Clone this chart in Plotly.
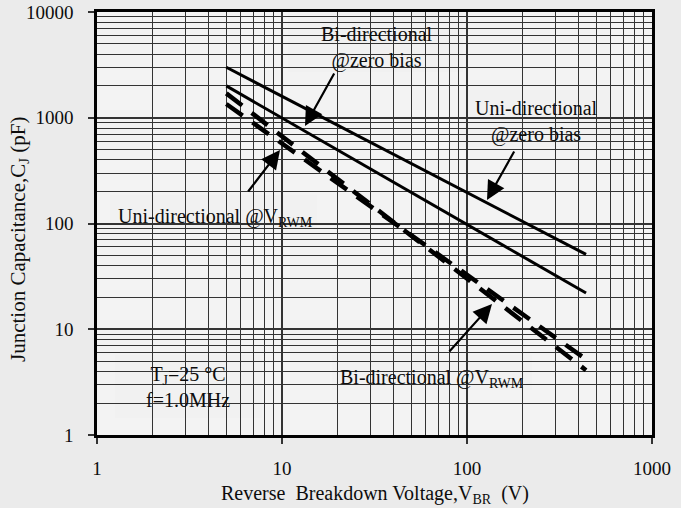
import plotly.graph_objects as go

# ---- data ----
bi_zero_x = [5, 440]
bi_zero_y = [3000, 51]
uni_zero_x = [5, 440]
uni_zero_y = [2000, 22]
uni_vrwm_x = [5, 440]
uni_vrwm_y = [1700, 4.1]
bi_vrwm_x = [5, 440]
bi_vrwm_y = [1350, 5.2]

x_tickvals = [1, 10, 100, 1000]
x_ticktext = ["1", "10", "100", "1000"]
y_tickvals = [1, 10, 100, 1000, 10000]
y_ticktext = ["1", "10", "100", "1000", "10000"]

FONT = "Liberation Serif"
TXT = "#0d0d0d"
GRID = "#333333"
BOX = "#f1f1f1"

fig = go.Figure()
fig.add_trace(go.Scatter(x=bi_zero_x, y=bi_zero_y, mode="lines",
                         line=dict(color="#000", width=3), showlegend=False))
fig.add_trace(go.Scatter(x=uni_zero_x, y=uni_zero_y, mode="lines",
                         line=dict(color="#000", width=3), showlegend=False))
fig.add_trace(go.Scatter(x=uni_vrwm_x, y=uni_vrwm_y, mode="lines",
                         line=dict(color="#000", width=4.5, dash="20px,12px"), showlegend=False))
fig.add_trace(go.Scatter(x=bi_vrwm_x, y=bi_vrwm_y, mode="lines",
                         line=dict(color="#000", width=4.5, dash="20px,12px"), showlegend=False))

L, R, T, B = 97, 652, 12, 435
W, H = R - L, B - T

def px(x):
    return (x - L) / W

def py(y):
    return (B - y) / H

# label boxes that hide the grid behind the text
boxes = [(288, 12, 463, 72), (457, 90, 623, 147), (110, 195, 317, 230),
         (332, 355, 532, 390), (115, 355, 262, 418)]
for x0, y0, x1, y1 in boxes:
    fig.add_shape(type="rect", xref="paper", yref="paper",
                  x0=px(x0), x1=px(x1), y0=py(y1), y1=py(y0),
                  fillcolor=BOX, line=dict(width=0), layer="between")

labels = [
    ("Bi-directional<br>@zero bias", 377, 47),
    ("Uni-directional<br>@zero bias", 536, 121),
    ("Uni-directional @V<sub>RWM</sub>", 215, 217),
    ("Bi-directional @V<sub>RWM</sub>", 432, 378),
    ("T<sub>J</sub>=25 °C<br>f=1.0MHz", 188, 387),
]
for text, x, y in labels:
    fig.add_annotation(text=text, xref="paper", yref="paper", x=px(x), y=py(y),
                       showarrow=False, font=dict(family=FONT, size=20, color=TXT),
                       xanchor="center", yanchor="middle")

def lx(p):
    return (p - L) / W * 3

def ly(p):
    return 4 - (p - T) / H * 4

arrows = [((305, 126), (335, 72)), ((487, 200), (515, 150)),
          ((280, 150), (247, 193)), ((492, 304), (448, 353))]
for (tx, ty), (sx, sy) in arrows:
    fig.add_annotation(x=lx(tx), y=ly(ty), xref="x", yref="y", text="",
                       showarrow=True, axref="pixel", ayref="pixel",
                       ax=sx - tx, ay=sy - ty, arrowhead=2, arrowsize=1.7,
                       arrowwidth=2.2, arrowcolor="#000")

# axis titles
fig.add_annotation(text="Junction Capacitance,C<sub>J</sub> (pF)", xref="paper", yref="paper",
                   x=px(19), y=py(240), textangle=-90, showarrow=False,
                   xanchor="center", yanchor="middle",
                   font=dict(family=FONT, size=21, color=TXT))
fig.add_annotation(text="Reverse  Breakdown Voltage,V<sub>BR</sub>  (V)", xref="paper", yref="paper",
                   x=px(375), y=py(494), showarrow=False,
                   xanchor="center", yanchor="middle",
                   font=dict(family=FONT, size=20, color=TXT))

axis_common = dict(type="log", showgrid=True, gridcolor=GRID, gridwidth=1.5,
                   showline=True, linecolor="#000", linewidth=2.5, mirror=True,
                   ticks="outside", ticklen=6, tickcolor="#333", tickwidth=1.5,
                   tickfont=dict(family=FONT, size=19, color=TXT),
                   minor=dict(dtick="D1", showgrid=True, gridcolor=GRID, gridwidth=1.4),
                   zeroline=False, automargin=False)

fig.update_xaxes(range=[0, 3], tickvals=x_tickvals, ticktext=x_ticktext,
                 ticklabelstandoff=8, **axis_common)
fig.update_yaxes(range=[0, 4], tickvals=y_tickvals, ticktext=y_ticktext,
                 ticklabelstandoff=11, **axis_common)

fig.update_layout(width=681, height=508, margin=dict(l=L, r=681 - R, t=T, b=508 - B),
                  paper_bgcolor="#ebebeb", plot_bgcolor="#f3f3f3",
                  font=dict(family=FONT, color=TXT), showlegend=False)

fig.write_html("out.html", config={"displayModeBar": False},
               post_script="document.body.style.margin='0';")
